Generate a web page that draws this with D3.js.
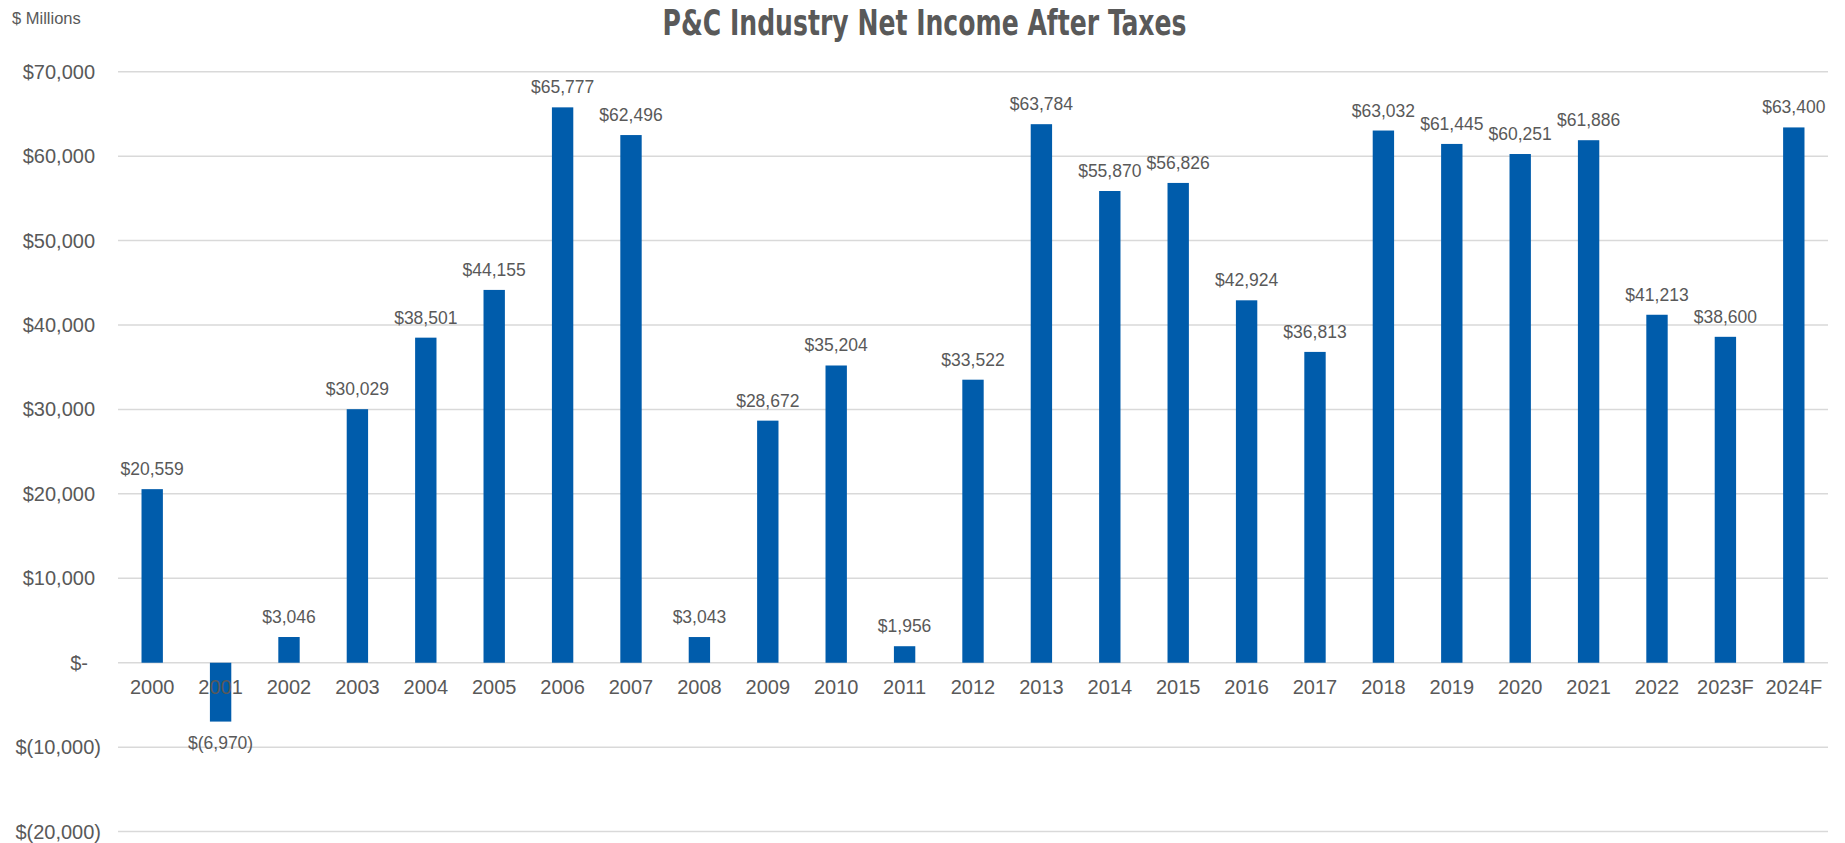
<!DOCTYPE html>
<html>
<head>
<meta charset="utf-8">
<script src="https://cdn.jsdelivr.net/npm/d3@7"></script>
<style>
  html, body { margin: 0; padding: 0; background: #ffffff; }
  svg { display: block; }
</style>
</head>
<body>
<svg id="chart" width="1845" height="843"></svg>
<script>
// Net income after taxes, $ millions, by year (F = forecast)
const years = ["2000","2001","2002","2003","2004","2005","2006","2007","2008","2009",
  "2010","2011","2012","2013","2014","2015","2016","2017","2018","2019",
  "2020","2021","2022","2023F","2024F"];
const netIncome = [20559, -6970, 3046, 30029, 38501, 44155, 65777, 62496, 3043, 28672,
  35204, 1956, 33522, 63784, 55870, 56826, 42924, 36813, 63032, 61445,
  60251, 61886, 41213, 38600, 63400];
const yTicks = [-20000, -10000, 0, 10000, 20000, 30000, 40000, 50000, 60000, 70000];

const titleText = "P&C Industry Net Income After Taxes";
const unitText = "$ Millions";

const W = 1845, H = 843;
const plot = { left: 118, right: 1828, top: 71.7, bottom: 831.6 };
const textColor = "#595959";
const barColor = "#005CAB";
const gridColor = "#D9D9D9";
const font = "'Liberation Sans', Arial, sans-serif";

const svg = d3.select("#chart");

const x = d3.scaleBand()
  .domain(years)
  .range([plot.left, plot.right])
  .paddingInner(0.6875)
  .paddingOuter(0.34375);

const y = d3.scaleLinear()
  .domain([-20000, 70000])
  .range([plot.bottom, plot.top]);

const comma = d3.format(",");
const money = v => v === 0 ? "$-" : (v < 0 ? "$(" + comma(-v) + ")" : "$" + comma(v));

// gridlines
svg.append("g")
  .selectAll("line")
  .data(yTicks)
  .join("line")
  .attr("x1", plot.left)
  .attr("x2", plot.right)
  .attr("y1", d => y(d))
  .attr("y2", d => y(d))
  .attr("stroke", gridColor)
  .attr("stroke-width", 1.5);

// y-axis labels (accounting style)
svg.append("g")
  .selectAll("text")
  .data(yTicks)
  .join("text")
  .attr("x", d => d < 0 ? 101 : (d === 0 ? 88 : 95))
  .attr("y", d => y(d))
  .attr("dy", "0.35em")
  .attr("text-anchor", "end")
  .attr("font-family", font)
  .attr("font-size", 20)
  .attr("fill", textColor)
  .text(money);

// bars
svg.append("g")
  .selectAll("rect")
  .data(years)
  .join("rect")
  .attr("x", d => x(d))
  .attr("width", x.bandwidth())
  .attr("y", (d, i) => y(Math.max(0, netIncome[i])))
  .attr("height", (d, i) => Math.abs(y(netIncome[i]) - y(0)))
  .attr("fill", barColor);

// x-axis year labels
svg.append("g")
  .selectAll("text")
  .data(years)
  .join("text")
  .attr("x", d => x(d) + x.bandwidth() / 2)
  .attr("y", 693.5)
  .attr("text-anchor", "middle")
  .attr("font-family", font)
  .attr("font-size", 20)
  .attr("fill", textColor)
  .text(d => d);

// value labels
svg.append("g")
  .selectAll("text")
  .data(years)
  .join("text")
  .attr("x", d => x(d) + x.bandwidth() / 2)
  .attr("y", (d, i) => netIncome[i] >= 0 ? y(netIncome[i]) - 14 : y(netIncome[i]) + 27)
  .attr("text-anchor", "middle")
  .attr("font-family", font)
  .attr("font-size", 17.5)
  .attr("fill", textColor)
  .text((d, i) => money(netIncome[i]));

// title
svg.append("text")
  .attr("x", W / 2 + 2)
  .attr("y", 35)
  .attr("text-anchor", "middle")
  .attr("font-family", "'Liberation Sans Narrow', 'DejaVu Sans Condensed', sans-serif")
  .attr("font-weight", "bold")
  .attr("font-size", 35)
  .attr("fill", textColor)
  .attr("textLength", 524)
  .attr("lengthAdjust", "spacingAndGlyphs")
  .text(titleText);

// unit note
svg.append("text")
  .attr("x", 12)
  .attr("y", 24)
  .attr("font-family", font)
  .attr("font-size", 16.5)
  .attr("fill", textColor)
  .text(unitText);
</script>
</body>
</html>
